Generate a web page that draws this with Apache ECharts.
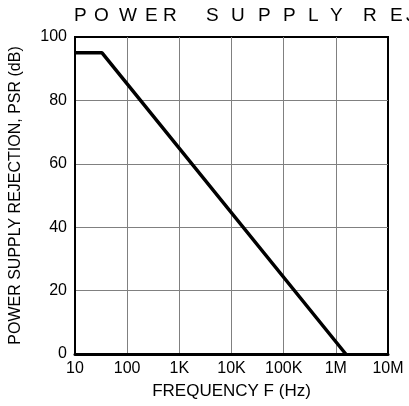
<!DOCTYPE html>
<html>
<head>
<meta charset="utf-8">
<script src="https://cdn.jsdelivr.net/npm/echarts@6/dist/echarts.min.js"></script>
<style>html,body{margin:0;padding:0;background:#fff;}#c{width:409px;height:406px;}</style>
</head>
<body>
<div id="c"></div>
<script>
// Data
const freqHz = [10, 33, 1.55e6];
const psrDb = [95, 95, 0];
const xTickLabels = ["10", "100", "1K", "10K", "100K", "1M", "10M"];
const yTickLabels = ["0", "20", "40", "60", "80", "100"];
const titleLetters = "POWER SUPPLY REJECTION".split("");

const chart = echarts.init(document.getElementById('c'), null, {renderer: 'canvas'});

// title letters laid out with wide letter spacing
const letterLefts = [74, 94, 119, 145, 163, null, 206, 231, 258, 283, 308, 330, null, 363, 390, 406, 420, 440, 460, 480, 500, 520];
const titleGraphics = [];
titleLetters.forEach((ch, i) => {
  if (ch === ' ' || letterLefts[i] == null) return;
  titleGraphics.push({
    type: 'text', left: letterLefts[i], top: 6,
    style: {text: ch, fill: '#000', font: '300 19px "Liberation Sans", Arial, sans-serif'}
  });
});

const FONT = '"Liberation Sans", Arial, sans-serif';
const option = {
  animation: false,
  backgroundColor: '#fff',
  graphic: titleGraphics,
  grid: {left: 71, right: 21, top: 37, bottom: 52, show: true, borderColor: '#000', borderWidth: 2, backgroundColor: 'transparent'},
  xAxis: {
    type: 'log', logBase: 10, min: 10, max: 1e7, splitNumber: 6,
    name: 'FREQUENCY F (Hz)', nameLocation: 'middle', nameGap: 29,
    nameTextStyle: {fontSize: 17, color: '#000', fontFamily: FONT},
    axisLine: {show: true, lineStyle: {color: '#000', width: 3}},
    axisTick: {show: false},
    axisLabel: {
      color: '#000', fontSize: 16, margin: 7, fontFamily: FONT,
      formatter: v => xTickLabels[Math.round(Math.log10(v)) - 1]
    },
    splitLine: {show: true, showMinLine: false, showMaxLine: false, lineStyle: {color: '#808080', width: 1}}
  },
  yAxis: {
    type: 'value', min: 0, max: 100, interval: 20,
    name: 'POWER SUPPLY REJECTION, PSR (dB)', nameLocation: 'middle', nameGap: 51, nameRotate: 90,
    nameTextStyle: {fontSize: 16, color: '#000', fontFamily: FONT},
    axisLine: {show: true, lineStyle: {color: '#000', width: 2}},
    axisTick: {show: false},
    axisLabel: {
      color: '#000', fontSize: 16, margin: 8, fontFamily: FONT,
      formatter: v => yTickLabels[Math.round(v / 20)]
    },
    splitLine: {show: true, showMinLine: false, showMaxLine: false, lineStyle: {color: '#808080', width: 1}}
  },
  series: [{
    type: 'line',
    data: freqHz.map((f, i) => [f, psrDb[i]]),
    symbol: 'none',
    lineStyle: {color: '#000', width: 3.5},
    z: 5
  }]
};
chart.setOption(option);
</script>
</body>
</html>
